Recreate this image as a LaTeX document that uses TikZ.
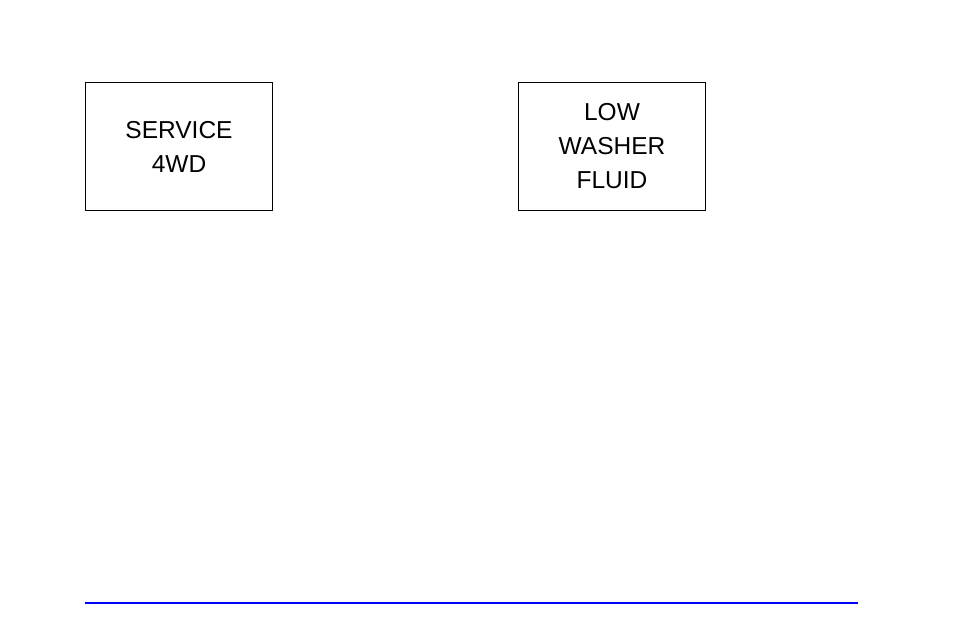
\documentclass[tikz,border=0pt]{standalone}
\usepackage{fontspec}
\setmainfont{Liberation Sans}
\begin{document}
\begin{tikzpicture}[x=1pt,y=-1pt,
  lamp/.style={draw=black,line width=1pt,minimum width=187pt,minimum height=128pt,anchor=north west,inner sep=0pt,align=center,font=\fontsize{24.5}{34}\selectfont}]
\useasboundingbox (0,0) rectangle (954,636);
\node[lamp] (a) at (85,82) {SERVICE\\4WD};
\node[lamp] (b) at (518,82) {LOW\\WASHER\\FLUID};
\coordinate (l1) at (85,603);
\coordinate (l2) at (858,603);
\draw[blue,line width=1.2pt] (l1) -- (l2);
\end{tikzpicture}
\end{document}
